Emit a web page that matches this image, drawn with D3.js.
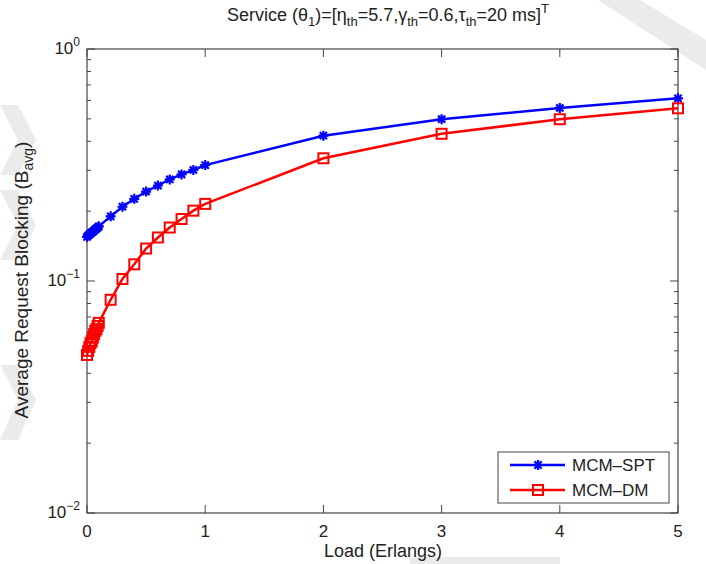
<!DOCTYPE html>
<html>
<head>
<meta charset="utf-8">
<script src="https://cdn.jsdelivr.net/npm/d3@7"></script>
<style>
  body { margin: 0; background: #fff; }
  svg { display: block; font-family: "Liberation Sans", Arial, sans-serif; }
</style>
</head>
<body>
<div id="chart"></div>
<script>
// data
const loadX = [0, 0.01, 0.02, 0.03, 0.04, 0.05, 0.06, 0.07, 0.08, 0.09, 0.1,
  0.2, 0.3, 0.4, 0.5, 0.6, 0.7, 0.8, 0.9, 1, 2, 3, 4, 5];
const spt = [0.155, 0.157, 0.159, 0.160, 0.162, 0.163, 0.165, 0.167, 0.168, 0.170, 0.172,
  0.190, 0.209, 0.226, 0.243, 0.258, 0.274, 0.288, 0.301, 0.316, 0.423, 0.498, 0.557, 0.613];
const dm = [0.048, 0.050, 0.052, 0.054, 0.055, 0.057, 0.059, 0.061, 0.062, 0.064, 0.066,
  0.083, 0.102, 0.118, 0.138, 0.154, 0.170, 0.185, 0.201, 0.215, 0.338, 0.431, 0.498, 0.555];
const xTicks = [0, 1, 2, 3, 4, 5];
const yMajor = [1, 0.1, 0.01];
const yExp = ['0', '\u22121', '\u22122'];

const W = 706, H = 564;
const margin = { top: 49, right: 28, bottom: 51, left: 87 };
const width = W - margin.left - margin.right;
const height = H - margin.top - margin.bottom;

const svg = d3.select('#chart').append('svg')
  .attr('width', W)
  .attr('height', H);

// faint watermark shapes in the background
const wm = [
  [[598, 0], [640, 0], [706, 40], [706, 70]],
  [[0, 105], [18, 105], [36, 140], [18, 175], [0, 175], [18, 140]],
  [[0, 190], [18, 190], [36, 225], [18, 260], [0, 260], [18, 225]],
  [[0, 365], [18, 365], [36, 400], [18, 440], [0, 440], [18, 400]],
  [[410, 557], [560, 557], [560, 564], [410, 564]]
];
svg.selectAll('.wm').data(wm).enter().append('polygon')
  .attr('class', 'wm')
  .attr('points', d => d.map(p => p.join(',')).join(' '))
  .attr('fill', '#ebebeb');

const g = svg.append('g').attr('transform', `translate(${margin.left},${margin.top})`);

const x = d3.scaleLinear().domain([0, 5]).range([0, width]);
const y = d3.scaleLog().domain([0.01, 1]).range([height, 0]);

// minor log ticks
const yMinor = [];
[0.01, 0.1].forEach(b => { for (let k = 2; k <= 9; k++) yMinor.push(b * k); });

const axisColor = '#444';
// ticks on all four sides, pointing inward
[0, width].forEach((xx, i) => {
  const dir = i === 0 ? 1 : -1;
  g.selectAll(null).data(yMajor).enter().append('line')
    .attr('x1', xx).attr('x2', xx + dir * 8)
    .attr('y1', d => y(d)).attr('y2', d => y(d))
    .attr('stroke', axisColor).attr('stroke-width', 1);
  g.selectAll(null).data(yMinor).enter().append('line')
    .attr('x1', xx).attr('x2', xx + dir * 4)
    .attr('y1', d => y(d)).attr('y2', d => y(d))
    .attr('stroke', axisColor).attr('stroke-width', 1);
});
[height, 0].forEach((yy, i) => {
  const dir = i === 0 ? -1 : 1;
  g.selectAll(null).data(xTicks).enter().append('line')
    .attr('x1', d => x(d)).attr('x2', d => x(d))
    .attr('y1', yy).attr('y2', yy + dir * 8)
    .attr('stroke', axisColor).attr('stroke-width', 1);
});

g.append('rect')
  .attr('width', width).attr('height', height)
  .attr('fill', 'none').attr('stroke', axisColor).attr('stroke-width', 1.2);

// x tick labels
g.selectAll('.xl').data(xTicks).enter().append('text')
  .attr('class', 'xl')
  .attr('x', d => x(d)).attr('y', height + 24)
  .attr('text-anchor', 'middle')
  .style('font-size', '17px').attr('fill', '#222')
  .text(d => d);

// y tick labels, 10^n
const yl = g.selectAll('.yl').data(yMajor).enter().append('text')
  .attr('class', 'yl')
  .attr('x', -7).attr('y', d => y(d) + 5)
  .attr('text-anchor', 'end')
  .style('font-size', '17px').attr('fill', '#222');
yl.append('tspan').text('10');
yl.append('tspan').attr('dy', -8).style('font-size', '12px').text((d, i) => yExp[i]);

// series
const seriesList = [
  { name: 'MCM\u2013SPT', values: spt, color: '#0000ff', marker: 'star' },
  { name: 'MCM\u2013DM', values: dm, color: '#ff0000', marker: 'square' }
];

const line = d3.line().x(d => x(d[0])).y(d => y(d[1]));

function drawMarker(sel, type, color) {
  if (type === 'star') {
    const r = 5;
    sel.append('path')
      .attr('d', `M${-r},0H${r}M0,${-r}V${r}M${-r * 0.72},${-r * 0.72}L${r * 0.72},${r * 0.72}M${-r * 0.72},${r * 0.72}L${r * 0.72},${-r * 0.72}`)
      .attr('stroke', color).attr('stroke-width', 2.2).attr('fill', 'none');
  } else {
    sel.append('rect')
      .attr('x', -5).attr('y', -5).attr('width', 10).attr('height', 10)
      .attr('stroke', color).attr('stroke-width', 2).attr('fill', 'none');
  }
}

seriesList.forEach(s => {
  const pts = loadX.map((v, i) => [v, s.values[i]]);
  g.append('path').datum(pts)
    .attr('d', line)
    .attr('fill', 'none')
    .attr('stroke', s.color)
    .attr('stroke-width', 2.5);
  const m = g.selectAll(null).data(pts).enter().append('g')
    .attr('transform', d => `translate(${x(d[0])},${y(d[1])})`);
  drawMarker(m, s.marker, s.color);
});

// legend
const lg = svg.append('g').attr('transform', 'translate(498,452)');
lg.append('rect').attr('width', 171).attr('height', 51)
  .attr('fill', '#fff').attr('stroke', axisColor).attr('stroke-width', 1);
seriesList.forEach((s, i) => {
  const row = lg.append('g').attr('transform', `translate(0,${13 + i * 25})`);
  row.append('line').attr('x1', 12).attr('x2', 67)
    .attr('stroke', s.color).attr('stroke-width', 2.5);
  const mk = row.append('g').attr('transform', 'translate(40,0)');
  drawMarker(mk, s.marker, s.color);
  row.append('text').attr('x', 74).attr('y', 6)
    .style('font-size', '17px').attr('fill', '#222')
    .text(s.name);
});

// title
const title = svg.append('text')
  .attr('x', 388).attr('y', 21)
  .attr('text-anchor', 'middle')
  .style('font-size', '18px').attr('fill', '#222');
const tparts = [
  ['Service (\u03b8', 0], ['1', 1], [')=[\u03b7', 0], ['th', 1], ['=5.7,\u03b3', 0], ['th', 1],
  ['=0.6,\u03c4', 0], ['th', 1], ['=20 ms]', 0], ['T', -1]
];
let prev = 0;
tparts.forEach(([t, lvl]) => {
  const off = lvl === 1 ? 5 : lvl === -1 ? -8 : 0;
  title.append('tspan')
    .attr('dy', off - prev)
    .style('font-size', lvl === 0 ? '18px' : '13px')
    .text(t);
  prev = off;
});

// axis titles
svg.append('text')
  .attr('x', 383).attr('y', 557)
  .attr('text-anchor', 'middle')
  .style('font-size', '18px').attr('fill', '#222')
  .text('Load (Erlangs)');

const ylab = svg.append('text')
  .attr('transform', 'translate(28,280) rotate(-90)')
  .attr('text-anchor', 'middle')
  .style('font-size', '19px').attr('fill', '#222');
ylab.append('tspan').text('Average Request Blocking (B');
ylab.append('tspan').attr('dy', 5).style('font-size', '14px').text('avg');
ylab.append('tspan').attr('dy', -5).text(')');
</script>
</body>
</html>
